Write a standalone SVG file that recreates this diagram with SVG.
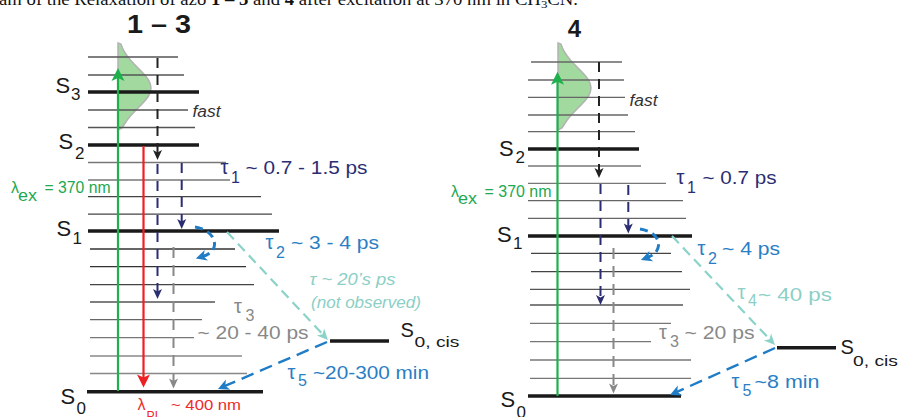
<svg xmlns="http://www.w3.org/2000/svg" width="898" height="417" viewBox="0 0 898 417">
<style>
.t{font-family:"Liberation Sans",Arial,sans-serif}
.cap{font-family:"Liberation Serif","Times New Roman",serif;font-size:16px;fill:#111}
.ttl{font-weight:bold;fill:#1a1a1a}
.lv{stroke-width:1.3;fill:none}
.th{stroke:#1a1a1a;stroke-width:3.5}
.S{font-size:22px;fill:#1a1a1a}
.Ssub{font-size:17px;fill:#1a1a1a}
.tau{font-size:20px}
.sub{font-size:16px}
.lab{font-size:18.5px}
.green{fill:#22a84f}
.navy{fill:#2b2d72}
.blue{fill:#2a7ec4}
.teal{fill:#8bcfc5}
.gray{fill:#888}
.red{fill:#ee2a2a}
.it{font-style:italic}
.gauss{fill:#a2d99e;stroke:#b3b3b3;stroke-width:1.5}
</style>
<defs>
<marker id="mBlack" viewBox="-11 -6 12 12" refX="-7" refY="0" markerWidth="12" markerHeight="12" markerUnits="userSpaceOnUse" orient="auto"><path d="M0,0 L-10,-4.5 L-7.5,0 L-10,4.5 Z" fill="#222"/></marker>
<marker id="mNavy" viewBox="-11 -6 12 12" refX="-7" refY="0" markerWidth="12" markerHeight="12" markerUnits="userSpaceOnUse" orient="auto"><path d="M0,0 L-10,-4.5 L-7.5,0 L-10,4.5 Z" fill="#2b2d72"/></marker>
<marker id="mGray" viewBox="-11 -6 12 12" refX="-7" refY="0" markerWidth="12" markerHeight="12" markerUnits="userSpaceOnUse" orient="auto"><path d="M0,0 L-10,-4.5 L-7.5,0 L-10,4.5 Z" fill="#888"/></marker>
<marker id="mTeal" viewBox="-11 -6 12 12" refX="-7" refY="0" markerWidth="12" markerHeight="12" markerUnits="userSpaceOnUse" orient="auto"><path d="M0,0 L-11,-5 L-8,0 L-11,5 Z" fill="#8bd3c8"/></marker>
<marker id="mBlue" viewBox="-12 -7 13 14" refX="-7" refY="0" markerWidth="13" markerHeight="14" markerUnits="userSpaceOnUse" orient="auto"><path d="M0,0 L-11,-5.5 L-8,0 L-11,5.5 Z" fill="#1f7cc5"/></marker>
<marker id="mGreen" viewBox="-14 -8 15 16" refX="-9" refY="0" markerWidth="15" markerHeight="16" markerUnits="userSpaceOnUse" orient="auto"><path d="M0,0 L-13,-6.5 L-10,0 L-13,6.5 Z" fill="#1db04b"/></marker>
<marker id="mRed" viewBox="-14 -8 15 16" refX="-9" refY="0" markerWidth="15" markerHeight="16" markerUnits="userSpaceOnUse" orient="auto"><path d="M0,0 L-13,-6.5 L-10,0 L-13,6.5 Z" fill="#ee2024"/></marker>
<path id="gaussShape" d="M118,43 L120.9,44 L122.5,48 L124.5,52 L127.2,56 L130.4,60 L134.1,64 L138,68 L142,72 L145.6,76 L148.5,80 L150.3,84 L151,88 L150.3,92 L148.5,96 L145.6,100 L142,104 L138,108 L134.1,112 L130.4,116 L127.2,120 L124.5,124 L122,128 L118,130 Z"/>
</defs>

<text class="cap" x="-1" y="5" textLength="579" lengthAdjust="spacingAndGlyphs">am of the Relaxation of azo <tspan font-weight="bold">1 – 3</tspan> and <tspan font-weight="bold">4</tspan> after excitation at 370 nm in CH<tspan font-size="11" dy="3">3</tspan><tspan dy="-3">CN.</tspan></text>

<!-- LEFT PANEL 1-3 -->
<g id="panel-1-3">
<text class="t ttl" x="127" y="33" font-size="25" textLength="64" lengthAdjust="spacingAndGlyphs">1 – 3</text>
<use href="#gaussShape" class="gauss"/>
<g id="levels-left">
<g stroke="#555" class="lv">
<line x1="88" y1="57" x2="178" y2="57"/>
<line x1="88" y1="75" x2="184" y2="75"/>
<line x1="88" y1="110" x2="188" y2="110"/>
<line x1="88" y1="127.5" x2="195" y2="127.5"/>
</g>
<g class="lv">
<line x1="88" y1="162.5" x2="226" y2="162.5" stroke="#777"/>
<line x1="88" y1="180" x2="230" y2="180" stroke="#777"/>
<line x1="88" y1="196.7" x2="261" y2="196.7" stroke="#444"/>
<line x1="88" y1="214.2" x2="272" y2="214.2" stroke="#444"/>
<line x1="90" y1="249" x2="235" y2="249" stroke="#333"/>
<line x1="90" y1="266.7" x2="246" y2="266.7" stroke="#333"/>
<line x1="90" y1="284.7" x2="254" y2="284.7" stroke="#444"/>
<line x1="90" y1="302" x2="215" y2="302" stroke="#555"/>
<line x1="90" y1="319.7" x2="202" y2="319.7" stroke="#666"/>
<line x1="90" y1="337.7" x2="194" y2="337.7" stroke="#777"/>
<line x1="90" y1="356" x2="242" y2="356" stroke="#888"/>
<line x1="90" y1="373.5" x2="247" y2="373.5" stroke="#888"/>
</g>
</g>
<g id="S3-left"><line class="th" x1="88" y1="92" x2="199" y2="92"/><text class="t S" x="55.5" y="92.5">S</text><text class="t Ssub" x="71" y="100">3</text></g>
<g id="S2-left"><line class="th" x1="88" y1="145" x2="199" y2="145"/><text class="t S" x="58.5" y="148.5">S</text><text class="t Ssub" x="75" y="159">2</text></g>
<g id="S1-left"><line class="th" x1="88" y1="231" x2="279" y2="231"/><text class="t S" x="56.5" y="235.5">S</text><text class="t Ssub" x="72.5" y="244">1</text></g>
<g id="S0-left"><line class="th" x1="87" y1="391.7" x2="263" y2="391.7"/><text class="t S" x="60.5" y="403.5">S</text><text class="t Ssub" x="76.5" y="413.5">0</text></g>
<g id="S0cis-left"><line class="th" x1="330" y1="341" x2="389" y2="341"/><text class="t" x="400.5" y="336.5" font-size="20" fill="#1a1a1a">S</text><text class="t" x="414.5" y="347" font-size="15.5" fill="#1a1a1a" textLength="45" lengthAdjust="spacingAndGlyphs">0, cis</text></g>

<g id="connectors-left" fill="none">
<line x1="118" y1="391" x2="118" y2="77" stroke="#1db04b" stroke-width="2.2" marker-end="url(#mGreen)"/>
<line x1="143.5" y1="146" x2="143.5" y2="378.5" stroke="#ee2024" stroke-width="2.2" marker-end="url(#mRed)"/>
<line x1="157.5" y1="58" x2="157.5" y2="153" stroke="#222" stroke-width="2" stroke-dasharray="10 7" marker-end="url(#mBlack)"/>
<line x1="157.5" y1="164" x2="157.5" y2="292" stroke="#2b2d72" stroke-width="2" stroke-dasharray="10 7" marker-end="url(#mNavy)"/>
<line x1="181.7" y1="163" x2="181.7" y2="222" stroke="#2b2d72" stroke-width="2" stroke-dasharray="10 7" marker-end="url(#mNavy)"/>
<line x1="173.5" y1="247" x2="173.5" y2="381.5" stroke="#888" stroke-width="2" stroke-dasharray="11 7" marker-end="url(#mGray)"/>
<path d="M195,227 C207,229 215,236 214.5,245 C214,251 209,254.5 202.5,256.5" stroke="#1f7cc5" stroke-width="3" stroke-dasharray="8 5" marker-end="url(#mBlue)"/>
<line x1="227" y1="232" x2="323.2" y2="334.9" stroke="#8bd3c8" stroke-width="2.2" stroke-dasharray="10 6" marker-end="url(#mTeal)"/>
<line x1="327" y1="342" x2="224.4" y2="386.2" stroke="#1f7cc5" stroke-width="2.4" stroke-dasharray="13 7" marker-end="url(#mBlue)"/>
</g>

<g id="labels-left">
<text class="t green" x="11" y="193" font-size="16">λ</text>
<text class="t green" x="18" y="201" font-size="16" textLength="19" lengthAdjust="spacingAndGlyphs">ex</text>
<text class="t green" x="44.5" y="193" font-size="16" textLength="66" lengthAdjust="spacingAndGlyphs">= 370 nm</text>
<text class="t it" x="192.5" y="117" font-size="16" fill="#333" textLength="28" lengthAdjust="spacingAndGlyphs">fast</text>
<text class="t navy tau" x="220.5" y="173.5">τ</text>
<text class="t navy sub" x="231" y="182.5">1</text>
<text class="t navy lab" x="245.5" y="173.5" textLength="122" lengthAdjust="spacingAndGlyphs">~ 0.7 - 1.5 ps</text>
<text class="t blue tau" x="265.5" y="248.5">τ</text>
<text class="t blue sub" x="276" y="257.5">2</text>
<text class="t blue lab" x="291" y="248.5" textLength="88" lengthAdjust="spacingAndGlyphs">~ 3 - 4 ps</text>
<text class="t teal it" x="309.5" y="285" font-size="17" textLength="86" lengthAdjust="spacingAndGlyphs">τ ~ 20’s ps</text>
<text class="t teal it" x="311" y="308" font-size="17" textLength="110" lengthAdjust="spacingAndGlyphs">(not observed)</text>
<text class="t gray tau" x="234" y="312.5">τ</text>
<text class="t gray sub" x="245.5" y="320.5">3</text>
<text class="t gray lab" x="197.5" y="338.5" textLength="111" lengthAdjust="spacingAndGlyphs">~ 20 - 40 ps</text>
<text class="t blue tau" x="287.5" y="378.5">τ</text>
<text class="t blue sub" x="298" y="385.5">5</text>
<text class="t blue lab" x="313" y="378.5" textLength="116" lengthAdjust="spacingAndGlyphs">~20-300 min</text>
<text class="t red" x="137.5" y="410" font-size="16">λ</text>
<text class="t red" x="146.5" y="421" font-size="15" textLength="15" lengthAdjust="spacingAndGlyphs">PL</text>
<text class="t red" x="171" y="410" font-size="15.5" textLength="70" lengthAdjust="spacingAndGlyphs">~ 400 nm</text>
</g>
</g>

<!-- RIGHT PANEL 4 -->
<g id="panel-4">
<text class="t ttl" x="574.5" y="37" font-size="24" text-anchor="middle">4</text>
<use href="#gaussShape" class="gauss" transform="translate(440,0)"/>
<g id="levels-right">
<g class="lv">
<line x1="531" y1="62" x2="622" y2="62" stroke="#666"/>
<line x1="528" y1="80" x2="624" y2="80" stroke="#666"/>
<line x1="528" y1="97.3" x2="625" y2="97.3" stroke="#666"/>
<line x1="528" y1="115" x2="628" y2="115" stroke="#666"/>
<line x1="528" y1="131.7" x2="635" y2="131.7" stroke="#666"/>
<line x1="528" y1="166" x2="641" y2="166" stroke="#777"/>
<line x1="528" y1="183.3" x2="666" y2="183.3" stroke="#777"/>
<line x1="528" y1="200.7" x2="683" y2="200.7" stroke="#666"/>
<line x1="528" y1="218.3" x2="686" y2="218.3" stroke="#666"/>
<line x1="531" y1="253.3" x2="671" y2="253.3" stroke="#444"/>
<line x1="531" y1="271.7" x2="682" y2="271.7" stroke="#444"/>
<line x1="530" y1="289.3" x2="690" y2="289.3" stroke="#555"/>
<line x1="530" y1="305" x2="683" y2="305" stroke="#555"/>
<line x1="530" y1="323.3" x2="671" y2="323.3" stroke="#777"/>
<line x1="530" y1="341.7" x2="651" y2="341.7" stroke="#777"/>
<line x1="530" y1="360" x2="691" y2="360" stroke="#777"/>
<line x1="530" y1="378.3" x2="691" y2="378.3" stroke="#777"/>
</g>
</g>
<g id="S2-right"><line class="th" x1="528" y1="149" x2="639" y2="149"/><text class="t S" x="499" y="155.5">S</text><text class="t Ssub" x="515.5" y="163">2</text></g>
<g id="S1-right"><line class="th" x1="528" y1="236" x2="692" y2="236"/><text class="t S" x="497" y="242">S</text><text class="t Ssub" x="513" y="249">1</text></g>
<g id="S0-right"><line class="th" x1="528" y1="396" x2="681" y2="396"/><text class="t S" x="500.5" y="407">S</text><text class="t Ssub" x="516.5" y="417.5">0</text></g>
<g id="S0cis-right"><line class="th" x1="777" y1="347.7" x2="836" y2="347.7"/><text class="t" x="840.5" y="353.8" font-size="20" fill="#1a1a1a">S</text><text class="t" x="853" y="365.5" font-size="15.5" fill="#1a1a1a" textLength="45" lengthAdjust="spacingAndGlyphs">0, cis</text></g>

<g id="connectors-right" fill="none">
<line x1="557.5" y1="396" x2="557.5" y2="80.7" stroke="#1db04b" stroke-width="2.2" marker-end="url(#mGreen)"/>
<line x1="599" y1="62" x2="599" y2="171" stroke="#222" stroke-width="2" stroke-dasharray="10 7" marker-end="url(#mBlack)"/>
<line x1="600.5" y1="184" x2="600.5" y2="298" stroke="#2b2d72" stroke-width="2" stroke-dasharray="10 7" marker-end="url(#mNavy)"/>
<line x1="628.3" y1="185" x2="628.3" y2="226.5" stroke="#2b2d72" stroke-width="2" stroke-dasharray="10 7" marker-end="url(#mNavy)"/>
<line x1="613.5" y1="248" x2="613.5" y2="386.5" stroke="#888" stroke-width="2" stroke-dasharray="11 7" marker-end="url(#mGray)"/>
<path d="M640,229 C652,231 659,237 658.5,245.5 C658,252 653,255.5 647.5,257.5" stroke="#1f7cc5" stroke-width="3" stroke-dasharray="8 5" marker-end="url(#mBlue)"/>
<line x1="672" y1="236" x2="770.2" y2="339.9" stroke="#8bd3c8" stroke-width="2.2" stroke-dasharray="10 6" marker-end="url(#mTeal)"/>
<line x1="775" y1="348" x2="676.4" y2="392.1" stroke="#1f7cc5" stroke-width="2.4" stroke-dasharray="13 7" marker-end="url(#mBlue)"/>
</g>

<g id="labels-right">
<text class="t it" x="629.5" y="105.7" font-size="16" fill="#333" textLength="28" lengthAdjust="spacingAndGlyphs">fast</text>
<text class="t green" x="451" y="196.7" font-size="16">λ</text>
<text class="t green" x="458" y="204" font-size="16" textLength="19" lengthAdjust="spacingAndGlyphs">ex</text>
<text class="t green" x="484.5" y="196.7" font-size="16" textLength="67" lengthAdjust="spacingAndGlyphs">= 370 nm</text>
<text class="t navy tau" x="676.5" y="183.8">τ</text>
<text class="t navy sub" x="687" y="192.5">1</text>
<text class="t navy lab" x="702.5" y="183.8" textLength="74" lengthAdjust="spacingAndGlyphs">~ 0.7 ps</text>
<text class="t blue tau" x="697.5" y="254.5">τ</text>
<text class="t blue sub" x="708" y="263.5">2</text>
<text class="t blue lab" x="722" y="254.5" textLength="58" lengthAdjust="spacingAndGlyphs">~ 4 ps</text>
<text class="t teal tau" x="737.5" y="299">τ</text>
<text class="t teal sub" x="748" y="305.5">4</text>
<text class="t teal lab" x="758" y="300.5" textLength="74" lengthAdjust="spacingAndGlyphs">~ 40 ps</text>
<text class="t gray tau" x="659" y="338.5">τ</text>
<text class="t gray sub" x="670" y="347">3</text>
<text class="t gray lab" x="684.5" y="338.8" textLength="70" lengthAdjust="spacingAndGlyphs">~ 20 ps</text>
<text class="t blue tau" x="731.5" y="387.8">τ</text>
<text class="t blue sub" x="742.5" y="395.5">5</text>
<text class="t blue lab" x="754.5" y="387.8" textLength="65" lengthAdjust="spacingAndGlyphs">~8 min</text>
</g>
</g>
</svg>
